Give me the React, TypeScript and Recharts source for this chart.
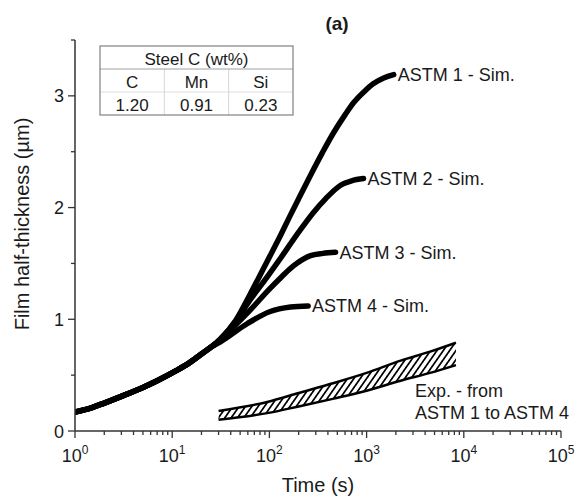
import React from 'react';
import { ComposedChart, Line, Area, XAxis, YAxis, ReferenceDot } from 'recharts';

// ---- data (time in s, thickness in µm) ----
const commonTime = [1, 1.5, 2, 3, 5, 7, 11, 15, 20, 25];
const commonThickness = [0.17, 0.21, 0.25, 0.31, 0.39, 0.45, 0.54, 0.61, 0.69, 0.75];

const astm1Time = [31, 45, 63, 95, 130, 164, 200, 265, 350, 457, 600, 737, 950, 1180, 1500, 1900];
const astm1Thickness = [0.82, 0.99, 1.22, 1.52, 1.75, 1.93, 2.08, 2.29, 2.49, 2.67, 2.83, 2.94, 3.04, 3.11, 3.16, 3.19];

const astm2Time = [31, 45, 63, 95, 124, 200, 280, 380, 540, 700, 930];
const astm2Thickness = [0.82, 0.98, 1.17, 1.38, 1.52, 1.78, 1.95, 2.08, 2.20, 2.24, 2.26];

const astm3Time = [31, 45, 63, 100, 130, 178, 265, 355, 480];
const astm3Thickness = [0.81, 0.95, 1.08, 1.27, 1.37, 1.48, 1.57, 1.59, 1.60];

const astm4Time = [31, 37, 59, 102, 165, 250];
const astm4Thickness = [0.795, 0.84, 0.96, 1.07, 1.11, 1.12];

const bandTime = [30, 95, 200, 460, 1000, 2240, 4500, 8300];
const bandLow = [0.10, 0.16, 0.22, 0.29, 0.36, 0.45, 0.52, 0.59];
const bandHigh = [0.18, 0.26, 0.34, 0.43, 0.52, 0.63, 0.71, 0.79];

const seriesLabels = ['ASTM 1 - Sim.', 'ASTM 2 - Sim.', 'ASTM 3 - Sim.', 'ASTM 4 - Sim.'];
const expLabel = ['Exp. - from', 'ASTM 1 to ASTM 4'];

const tableTitle = 'Steel C (wt%)';
const tableElements = ['C', 'Mn', 'Si'];
const tableValues = ['1.20', '0.91', '0.23'];

const majorXTicks = [1, 10, 100, 1000, 10000, 100000];
const minorMultipliers = [2, 3, 4, 5, 6, 7, 8, 9];
const xTicks: number[] = [];
majorXTicks.forEach((m, i) => {
  xTicks.push(m);
  if (i < majorXTicks.length - 1) minorMultipliers.forEach((k) => xTicks.push(m * k));
});
const yTicks = [0, 0.5, 1, 1.5, 2, 2.5, 3, 3.5];
const yLabelTicks = [0, 1, 2, 3];

const toPoints = (ts: number[], vs: number[]) => ts.map((t, i) => ({ t, v: vs[i] }));
const series = [
  toPoints([...commonTime, ...astm1Time], [...commonThickness, ...astm1Thickness]),
  toPoints([...commonTime, ...astm2Time], [...commonThickness, ...astm2Thickness]),
  toPoints([...commonTime, ...astm3Time], [...commonThickness, ...astm3Thickness]),
  toPoints([...commonTime, ...astm4Time], [...commonThickness, ...astm4Thickness]),
];
const bandData = bandTime.map((t, i) => ({ t, range: [bandLow[i], bandHigh[i]] }));

const FONT = '"Liberation Sans", Arial, Helvetica, sans-serif';
const AXIS = '#333';
const TEXT = '#1a1a1a';

const XTick = (props: any) => {
  const { x, y, payload } = props;
  const v = payload.value as number;
  const major = majorXTicks.includes(v);
  const exp = Math.round(Math.log10(v));
  return (
    <g>
      <line x1={x} x2={x} y1={y} y2={y + (major ? 7 : 4)} stroke={AXIS} strokeWidth={1.3} />
      {major && (
        <text x={x} y={y + 31} textAnchor="middle" fontSize={18} fill={TEXT} fontFamily={FONT}>
          <tspan>10</tspan>
          <tspan dy={-8} fontSize={12}>{exp}</tspan>
        </text>
      )}
    </g>
  );
};

const YTick = (props: any) => {
  const { x, y, payload } = props;
  const v = payload.value as number;
  const major = yLabelTicks.includes(v);
  return (
    <g>
      <line x1={x} x2={x - (major ? 7 : 4)} y1={y} y2={y} stroke={AXIS} strokeWidth={1.3} />
      {major && (
        <text x={x - 11} y={y + 6.5} textAnchor="end" fontSize={18} fill={TEXT} fontFamily={FONT}>
          {v}
        </text>
      )}
    </g>
  );
};

// table geometry (inset box)
const TB = { x: 100, y: 46, w: 193, rowH: 23 };
const colW = TB.w / 3;

export default function App() {
  return (
    <div style={{ position: 'absolute', left: 0, top: 0, width: 577, height: 499, background: '#fff', fontFamily: FONT }}>
      <ComposedChart width={577} height={499} margin={{ top: 40, right: 16, bottom: 0, left: 0 }}>
        <defs>
          <pattern id="hatch" patternUnits="userSpaceOnUse" width={5.2} height={5.2} patternTransform="rotate(35)">
            <line x1={2.6} y1={-1} x2={2.6} y2={6.2} stroke="#000" strokeWidth={1.7} />
          </pattern>
        </defs>
        <XAxis
          dataKey="t"
          type="number"
          scale="log"
          domain={[1, 100000]}
          allowDataOverflow
          ticks={xTicks}
          interval={0}
          tick={<XTick />}
          tickLine={false}
          tickSize={0}
          tickMargin={0}
          height={68}
          axisLine={{ stroke: AXIS, strokeWidth: 1.5 }}
        />
        <YAxis
          type="number"
          domain={[0, 3.5]}
          ticks={yTicks}
          interval={0}
          tick={<YTick />}
          tickLine={false}
          tickSize={0}
          tickMargin={0}
          width={75}
          axisLine={{ stroke: AXIS, strokeWidth: 1.5 }}
        />
        <Area
          data={bandData}
          dataKey="range"
          type="monotone"
          stroke="#000"
          strokeWidth={2.5}
          fill="url(#hatch)"
          fillOpacity={1}
          isAnimationActive={false}
          dot={false}
          activeDot={false}
        />
        {series.map((d, i) => (
          <Line
            key={i}
            data={d}
            dataKey="v"
            type="monotone"
            stroke="#000"
            strokeWidth={5.5}
            strokeLinecap="round"
            strokeLinejoin="round"
            dot={false}
            activeDot={false}
            isAnimationActive={false}
          />
        ))}
        {series.map((d, i) => (
          <ReferenceDot
            key={'l' + i}
            x={d[d.length - 1].t}
            y={d[d.length - 1].v}
            r={0}
            fill="none"
            stroke="none"
            label={{ value: seriesLabels[i], position: 'right', offset: 4, fontSize: 18, fill: TEXT, fontFamily: FONT }}
          />
        ))}
      </ComposedChart>

      <svg width={577} height={499} style={{ position: 'absolute', left: 0, top: 0, pointerEvents: 'none' }}>
        <text x={337} y={30} textAnchor="middle" fontSize={19} fontWeight="bold" fill={TEXT} fontFamily={FONT}>(a)</text>
        <text x={318} y={492} textAnchor="middle" fontSize={20} fill={TEXT} fontFamily={FONT}>Time (s)</text>
        <text transform="translate(29,224) rotate(-90)" textAnchor="middle" fontSize={20} fill={TEXT} fontFamily={FONT}>Film half-thickness (µm)</text>
        <text x={415} y={397} fontSize={18} fill={TEXT} fontFamily={FONT}>{expLabel[0]}</text>
        <text x={415} y={419} fontSize={18} fill={TEXT} fontFamily={FONT}>{expLabel[1]}</text>

        {/* composition table */}
        <rect x={TB.x} y={TB.y} width={TB.w} height={TB.rowH * 3} fill="#fff" stroke="none" />
        <line x1={TB.x} x2={TB.x + TB.w} y1={TB.y + TB.rowH * 2} y2={TB.y + TB.rowH * 2} stroke="#dedede" strokeWidth={1} />
        {[1, 2].map((k) => (
          <line key={k} x1={TB.x + colW * k} x2={TB.x + colW * k} y1={TB.y + TB.rowH} y2={TB.y + TB.rowH * 3} stroke="#d6d6d6" strokeWidth={1} />
        ))}
        <line x1={TB.x} x2={TB.x + TB.w} y1={TB.y + TB.rowH} y2={TB.y + TB.rowH} stroke="#a0a0a0" strokeWidth={1} />
        <rect x={TB.x} y={TB.y} width={TB.w} height={TB.rowH * 3} fill="none" stroke="#808080" strokeWidth={1.2} />
        <text x={TB.x + TB.w / 2} y={TB.y + 19} textAnchor="middle" fontSize={17} fill={TEXT} fontFamily={FONT}>{tableTitle}</text>
        {tableElements.map((e, k) => (
          <text key={e} x={TB.x + colW * (k + 0.5)} y={TB.y + TB.rowH + 19} textAnchor="middle" fontSize={17} fill={TEXT} fontFamily={FONT}>{e}</text>
        ))}
        {tableValues.map((v, k) => (
          <text key={v} x={TB.x + colW * (k + 0.5)} y={TB.y + TB.rowH * 2 + 19} textAnchor="middle" fontSize={17} fill={TEXT} fontFamily={FONT}>{v}</text>
        ))}
      </svg>
    </div>
  );
}
